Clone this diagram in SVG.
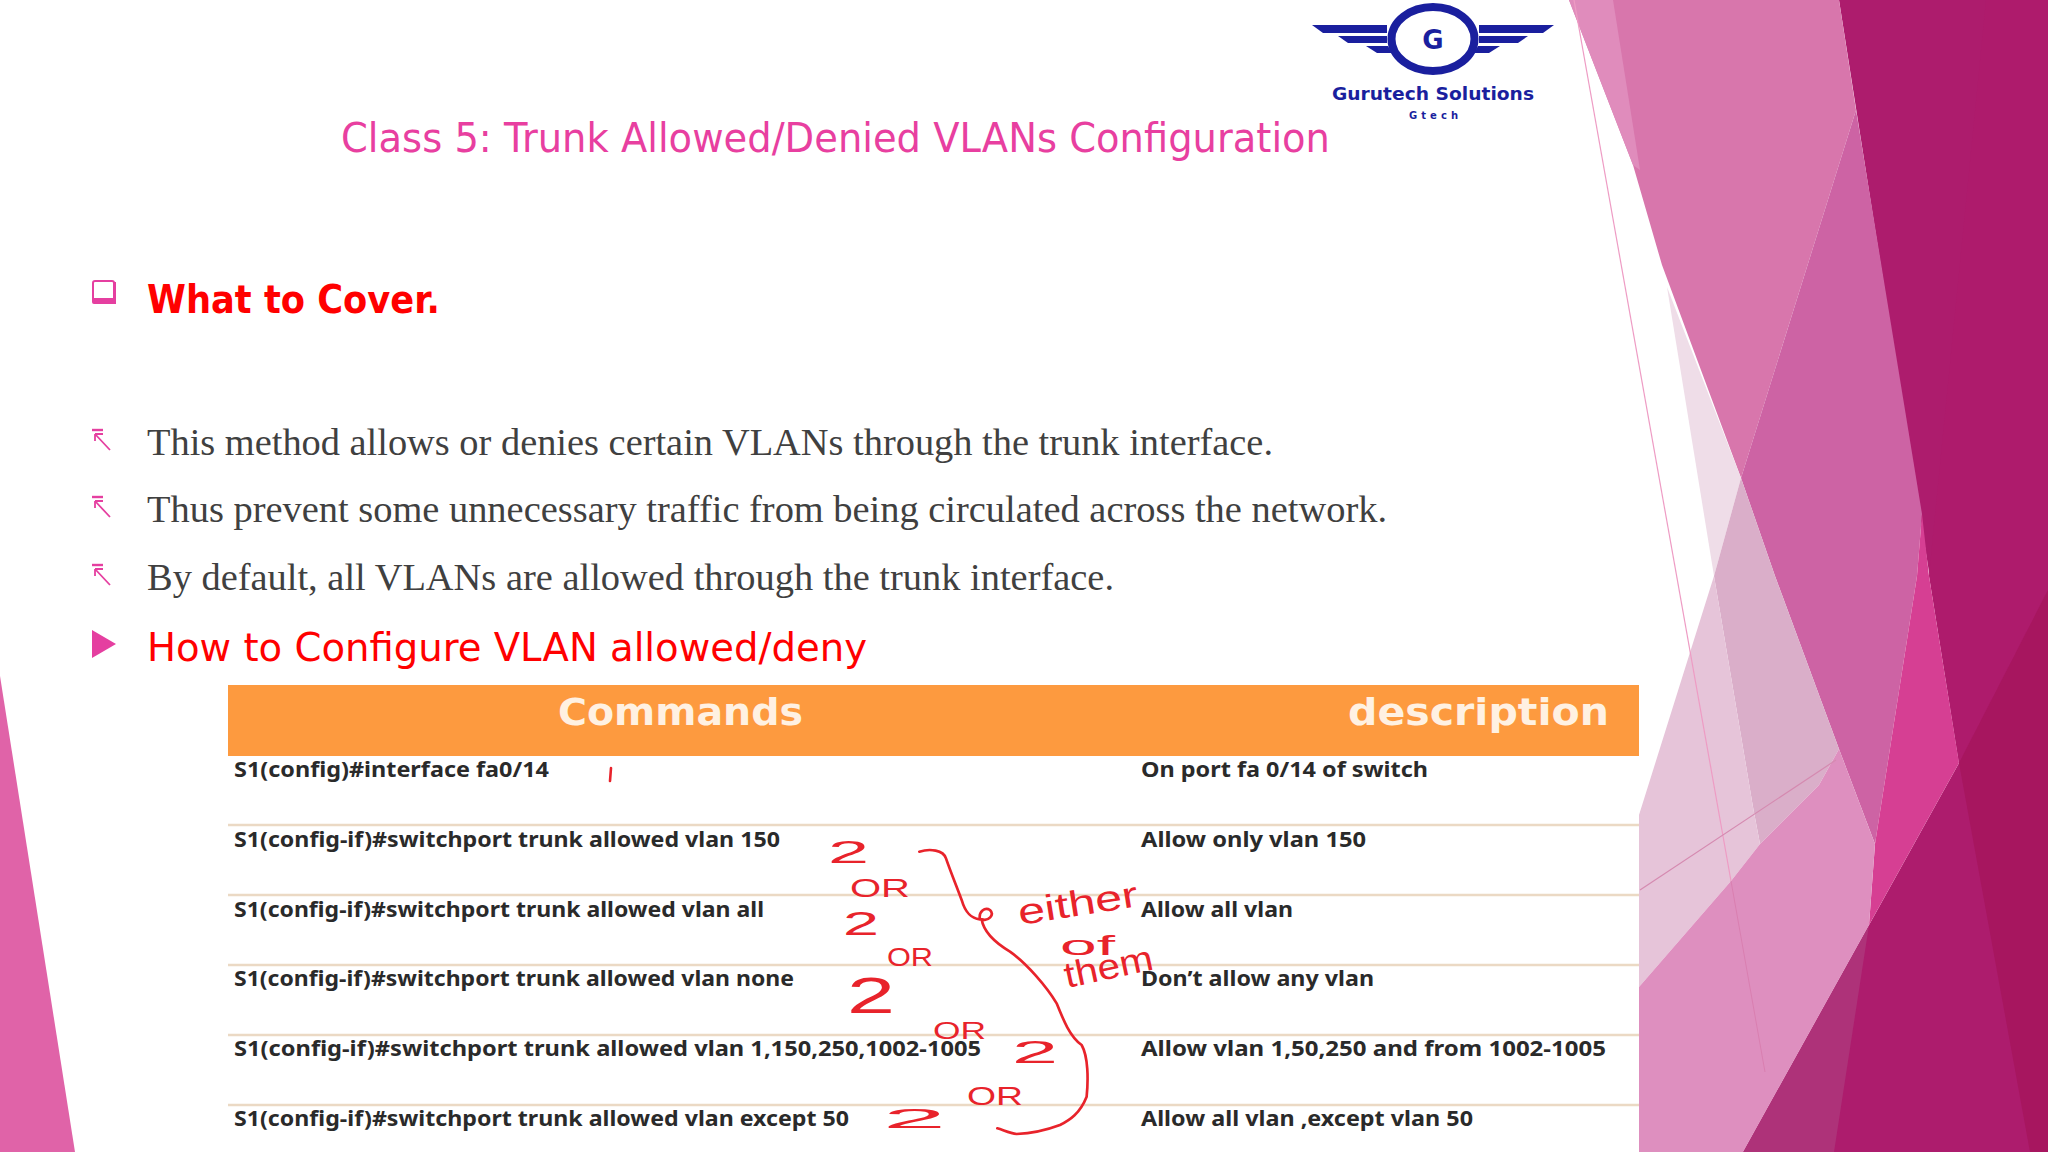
<svg xmlns="http://www.w3.org/2000/svg" xmlns:xlink="http://www.w3.org/1999/xlink" width="2048" height="1152" viewBox="0 0 2048 1152">
<style>
.title{font-family:"DejaVu Sans",sans-serif;font-size:41px;fill:#E83FA0}
.head{font-family:"DejaVu Sans",sans-serif;fill:#FF0000;font-size:39px}
.body{font-family:"Liberation Serif",serif;font-size:37px;fill:#404040}
.cmd{font-family:"Noto Sans",sans-serif;font-weight:700;font-size:21px;fill:#2A2A2A}
.th{font-family:"DejaVu Sans",sans-serif;font-weight:700;font-size:38px;fill:#FFF1E2}
.ink{font-family:"Liberation Sans",sans-serif;fill:#E8232B}
.row{stroke:#EBD9C4;stroke-width:2.5}
.logo{fill:#1A1F9E}
</style>
<defs>
<g id="arrowBullet" fill="none" stroke="#E53FA0" stroke-width="1.8">
<path d="M92 0H103" stroke-width="2.4"/>
<path d="M95 4L110 20M95 4V11M95 4H103"/>
</g>
</defs>
<rect width="2048" height="1152" fill="#FFFFFF"/>

<g id="background">
<polygon points="0,676 75,1152 0,1152" fill="#E063A8"/>
<polygon points="1839,0 2048,0 2048,1152 1743,1152 1959,763" fill="#AD1C6D"/>
<polygon points="1986,0 2048,0 2048,590 1959,763 1929,576" fill="#AE1B6C"/>
<polygon points="1959,763 2048,590 2048,1152 2030,1152" fill="#A7165F"/>
<polygon points="1869,925 1834,1152 1743,1152" fill="#AE3279"/>
<polygon points="1569,0 1839,0 1856,110 1741,478 1662,265 1633,165" fill="#D876AC"/>
<polygon points="1569,0 1613,0 1640,170 1633,165" fill="#E08CBC"/>
<polygon points="1856,110 1922,514 1917,576 1875,844 1839,749 1775,576 1741,478" fill="#CD63A4"/>
<polygon points="1922,514 1929,576 1959,763 1869,925 1875,844 1917,576" fill="#D63F93"/>
<polygon points="1667,287 1741,478 1714,576" fill="#EFDDE8"/>
<polygon points="1741,478 1775,576 1839,749 1819,785 1760,844 1753,807 1714,576" fill="#DAAEC9"/>
<polygon points="1714,576 1753,807 1760,844 1731,881 1639,987 1639,815" fill="#E6C4D9"/>
<polygon points="1839,749 1875,844 1869,925 1743,1152 1639,1152 1639,987 1731,881 1760,844 1819,785" fill="#DE8FBF"/>
<path d="M1574 0L1731 881" stroke="#EE9CC4" stroke-width="1.2" fill="none"/>
<path d="M1731 881L1765 1072" stroke="#D97FB0" stroke-width="1" fill="none"/>
<path d="M1836 760L1640 890" stroke="#D58AB0" stroke-width="1.2" fill="none"/>
</g>

<g id="logo">
<ellipse cx="1433" cy="39" rx="41.500" ry="32" fill="#FFFFFF" stroke="#1A1F9E" stroke-width="8"/>
<polygon class="logo" points="1312,25 1387,25 1387,33 1323,33"/>
<polygon class="logo" points="1338,36 1387,36 1387,43 1348,43"/>
<polygon class="logo" points="1366,46 1388,46 1392,53 1377,53"/>
<polygon class="logo" points="1554,25 1479,25 1479,33 1543,33"/>
<polygon class="logo" points="1528,36 1479,36 1479,43 1518,43"/>
<polygon class="logo" points="1500,46 1478,46 1474,53 1489,53"/>
<text x="1433" y="49" text-anchor="middle" class="logo" style="font-family:'DejaVu Sans',sans-serif;font-weight:700;font-size:26px">G</text>
<text x="1332" y="100" class="logo" textLength="202" lengthAdjust="spacingAndGlyphs" style="font-family:'DejaVu Sans',sans-serif;font-weight:700;font-size:17px">Gurutech Solutions</text>
<text x="1409" y="119" class="logo" textLength="49" style="font-family:'DejaVu Sans',sans-serif;font-weight:700;font-size:10px">Gtech</text>
</g>

<g id="title">
<text class="title" x="341" y="152" textLength="989" lengthAdjust="spacingAndGlyphs">Class 5: Trunk Allowed/Denied VLANs Configuration</text>
</g>

<g id="bullets">
<rect x="93" y="281" width="21" height="21" rx="2" fill="#FFFFFF" stroke="#E53FA0" stroke-width="2"/>
<path d="M92 298V302Q92 304 94 304H116V282H114V298Z" fill="#E53FA0"/>
<text class="head" font-weight="700" x="147" y="313" textLength="293" lengthAdjust="spacingAndGlyphs">What to Cover.</text>
<use xlink:href="#arrowBullet" href="#arrowBullet" transform="translate(0,430)"/>
<use xlink:href="#arrowBullet" href="#arrowBullet" transform="translate(0,497)"/>
<use xlink:href="#arrowBullet" href="#arrowBullet" transform="translate(0,565)"/>
<text class="body" x="147" y="455" textLength="1126" lengthAdjust="spacingAndGlyphs">This method allows or denies certain VLANs through the trunk interface.</text>
<text class="body" x="147" y="522" textLength="1240" lengthAdjust="spacingAndGlyphs">Thus prevent some unnecessary traffic from being circulated across the network.</text>
<text class="body" x="147" y="590" textLength="967" lengthAdjust="spacingAndGlyphs">By default, all VLANs are allowed through the trunk interface.</text>
<polygon points="92,630 116,644 92,658" fill="#E53FA0"/>
<text class="head" x="147" y="661" textLength="720" lengthAdjust="spacingAndGlyphs">How to Configure VLAN allowed/deny</text>
</g>

<g id="table">
<rect x="228" y="684" width="1411" height="468" fill="#FFFFFF"/>
<rect x="228" y="685" width="1411" height="71" fill="#FD9A3F"/>
<path class="row" d="M228 825H1639M228 895H1639M228 965H1639M228 1035H1639M228 1105H1639"/>
<text class="th" x="558" y="725" textLength="245" lengthAdjust="spacingAndGlyphs">Commands</text>
<text class="th" x="1348" y="725" textLength="261" lengthAdjust="spacingAndGlyphs">description</text>
<text class="cmd" x="234" y="777" textLength="315" lengthAdjust="spacingAndGlyphs">S1(config)#interface fa0/14</text>
<text class="cmd" x="234" y="847" textLength="546" lengthAdjust="spacingAndGlyphs">S1(config-if)#switchport trunk allowed vlan 150</text>
<text class="cmd" x="234" y="917" textLength="530" lengthAdjust="spacingAndGlyphs">S1(config-if)#switchport trunk allowed vlan all</text>
<text class="cmd" x="234" y="986" textLength="560" lengthAdjust="spacingAndGlyphs">S1(config-if)#switchport trunk allowed vlan none</text>
<text class="cmd" x="234" y="1056" textLength="747" lengthAdjust="spacingAndGlyphs">S1(config-if)#switchport trunk allowed vlan 1,150,250,1002-1005</text>
<text class="cmd" x="234" y="1126" textLength="615" lengthAdjust="spacingAndGlyphs">S1(config-if)#switchport trunk allowed vlan except 50</text>
<text class="cmd" x="1141" y="777" textLength="287" lengthAdjust="spacingAndGlyphs">On port fa 0/14 of switch</text>
<text class="cmd" x="1141" y="847" textLength="225" lengthAdjust="spacingAndGlyphs">Allow only vlan 150</text>
<text class="cmd" x="1141" y="917" textLength="152" lengthAdjust="spacingAndGlyphs">Allow all vlan</text>
<text class="cmd" x="1141" y="986" textLength="233" lengthAdjust="spacingAndGlyphs">Don’t allow any vlan</text>
<text class="cmd" x="1141" y="1056" textLength="465" lengthAdjust="spacingAndGlyphs">Allow vlan 1,50,250 and from 1002-1005</text>
<text class="cmd" x="1141" y="1126" textLength="332" lengthAdjust="spacingAndGlyphs">Allow all vlan ,except vlan 50</text>
</g>

<g id="connectors" fill="none" stroke="#E8232B" stroke-width="2.6" stroke-linecap="round" stroke-linejoin="round">
<path d="M611 768L610 781"/>
<path transform="translate(780,780) scale(0.3333)" stroke-width="8" d="M418 215C450 205 490 210 498 235C510 270 530 320 545 360C555 395 570 415 600 418C595 395 615 380 630 390C645 405 625 425 605 418C610 450 640 485 690 515C740 550 800 620 830 670C850 720 870 770 905 795C925 830 925 900 920 950C900 1000 870 1020 840 1035C800 1050 760 1060 710 1062C690 1060 670 1050 652 1045"/>
</g>

<g id="handwriting">
<text class="ink" x="828" y="863" font-size="32" textLength="41" lengthAdjust="spacingAndGlyphs">2</text>
<text class="ink" x="843" y="935" font-size="33" textLength="36" lengthAdjust="spacingAndGlyphs">2</text>
<text class="ink" x="847" y="1013" font-size="50" textLength="48" lengthAdjust="spacingAndGlyphs">2</text>
<text class="ink" x="1012" y="1063" font-size="32" textLength="46" lengthAdjust="spacingAndGlyphs">2</text>
<text class="ink" x="883" y="1128" font-size="27" textLength="63" lengthAdjust="spacingAndGlyphs">2</text>
<text class="ink" x="850" y="897" font-size="26" textLength="60" lengthAdjust="spacingAndGlyphs">OR</text>
<text class="ink" x="887" y="966" font-size="26" textLength="46" lengthAdjust="spacingAndGlyphs">OR</text>
<text class="ink" x="933" y="1039" font-size="24" textLength="53" lengthAdjust="spacingAndGlyphs">OR</text>
<text class="ink" x="967" y="1105" font-size="26" textLength="56" lengthAdjust="spacingAndGlyphs">OR</text>
<text class="ink" transform="translate(1020,925) rotate(-9)" font-size="36" textLength="121" lengthAdjust="spacingAndGlyphs">either</text>
<text class="ink" x="1060" y="955" font-size="28" textLength="55" lengthAdjust="spacingAndGlyphs">of</text>
<text class="ink" transform="translate(1067,988) rotate(-12)" font-size="36" textLength="90" lengthAdjust="spacingAndGlyphs">them</text>
</g>
</svg>
